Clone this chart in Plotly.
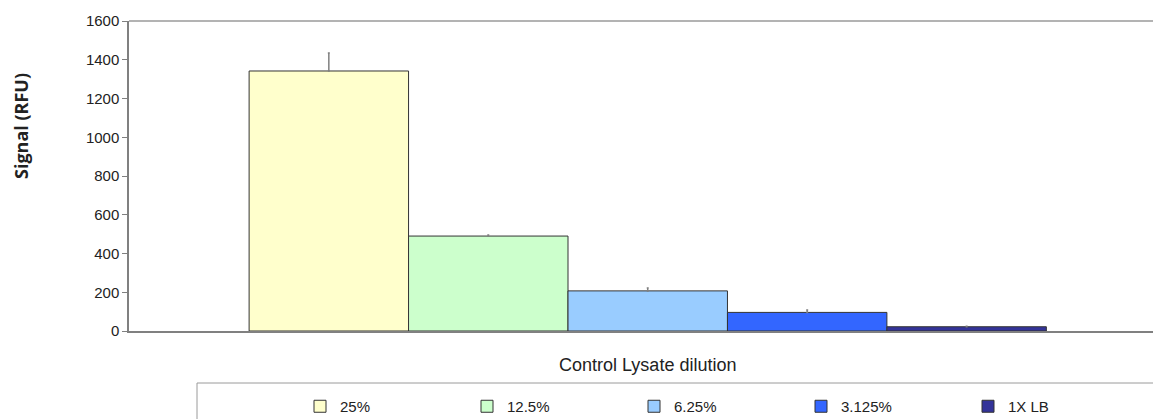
import plotly.graph_objects as go

series = ["25%", "12.5%", "6.25%", "3.125%", "1X LB"]
values = [1342, 490, 207, 96, 22]
errors = [93, 5, 15, 12, 3]
colors = ["#FFFFCC", "#CCFFCC", "#99CCFF", "#3366FF", "#333399"]
yticks = [0, 200, 400, 600, 800, 1000, 1200, 1400, 1600]

W, H = 1153, 419
L, R, T, B = 129, 0, 21, 419 - 331
pw = W - L - R
ph = H - T - B

fig = go.Figure()
for name, v, e, c in zip(series, values, errors, colors):
    fig.add_trace(go.Bar(
        x=[0], y=[v], name=name,
        marker=dict(color=c, line=dict(color="#333333", width=1)),
        error_y=dict(type="data", array=[e], arrayminus=[0], symmetric=False,
                     color="#808080", thickness=1.5, width=1),
    ))

def px_x(p):
    return (p - L) / pw

def px_y(p):
    return (H - B - p) / ph

fig.update_layout(
    width=W, height=H,
    margin=dict(l=L, r=R, t=T, b=B, autoexpand=False),
    paper_bgcolor="white", plot_bgcolor="white",
    barmode="group", bargap=0.23, bargroupgap=0,
    font=dict(family="Liberation Sans Narrow, Liberation Sans, sans-serif", size=13, color="#222222"),
    xaxis=dict(range=[-0.501, 0.488], showticklabels=False, ticks="", showgrid=False,
               zeroline=False, showline=True, linecolor="#808080", linewidth=1.5, automargin=False),
    yaxis=dict(range=[0, 1600], tickvals=yticks, ticks="outside", ticklen=5, tickcolor="#808080",
               showgrid=False, zeroline=False, showline=True, linecolor="#808080", linewidth=1.5,
               mirror=False, tickfont=dict(size=15), automargin=False),
    legend=dict(orientation="h", x=px_x(300), xanchor="left", y=px_y(390), yanchor="top",
                entrywidth=122, entrywidthmode="pixels", traceorder="normal",
                font=dict(size=15), bgcolor="rgba(0,0,0,0)", borderwidth=0),
    showlegend=True,
)

fig.add_annotation(text="<b>Signal (RFU)</b>", xref="paper", yref="paper",
                   x=px_x(21), y=px_y(126), xanchor="center", yanchor="middle",
                   textangle=-90, showarrow=False,
                   font=dict(size=18, family="Open Sans, sans-serif", color="#222222"))
fig.add_annotation(text="Control Lysate dilution", xref="paper", yref="paper",
                   x=px_x(647), y=px_y(365), xanchor="center", yanchor="middle",
                   showarrow=False,
                   font=dict(size=18, family="Liberation Sans, sans-serif", color="#222222"))

# top border of plot area
fig.add_shape(type="line", xref="paper", yref="paper", x0=0, x1=1, y0=1, y1=1,
              line=dict(color="#9a9a9a", width=1.5))
# legend box
fig.add_shape(type="rect", xref="paper", yref="paper",
              x0=px_x(197), x1=px_x(1160), y0=px_y(383), y1=px_y(425),
              line=dict(color="#9a9a9a", width=1), fillcolor="rgba(0,0,0,0)", layer="below")

fig.write_html("out.html", config={"displayModeBar": False},
               post_script="document.body.style.margin='0';document.body.style.overflow='hidden';")
